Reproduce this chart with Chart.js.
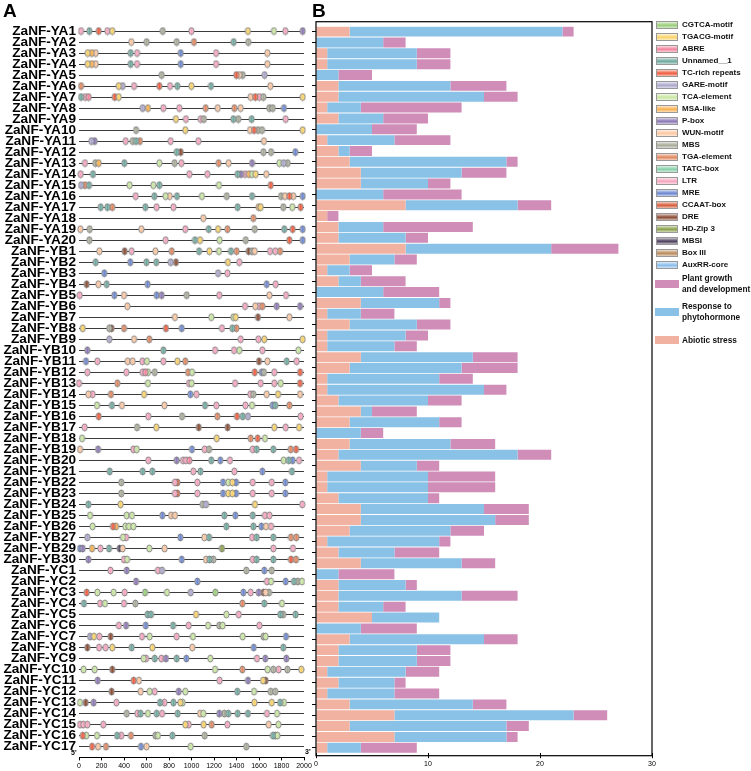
<!DOCTYPE html>
<html>
<head>
<meta charset="utf-8">
<script src="https://cdn.jsdelivr.net/npm/chart.js@4/dist/chart.umd.min.js"></script>
<style>
body { margin: 0; background: #fff; font-family: 'Liberation Sans', Arial, sans-serif; }
#wrap { position: relative; width: 751px; height: 771px; overflow: hidden; }
canvas { position: absolute; top: 0; }
#chartA { left: 0; }
#chartB { left: 300px; }
.panel { position: absolute; font-weight: bold; font-size: 19px; line-height: 19px; }
.end { position: absolute; font-weight: bold; font-size: 7px; line-height: 8px; }
.sw { position: absolute; left: 656px; width: 20px; height: 6px; border: 1px solid #999; }
.cs { position: absolute; left: 655px; width: 24px; height: 8px; }
.lt { position: absolute; left: 682px; font-size: 8px; font-weight: bold; line-height: 10px; white-space: nowrap; color: #111; }
</style>
</head>
<body>
<div id="wrap">
  <canvas id="chartA" width="315" height="771"></canvas>
  <canvas id="chartB" width="360" height="771"></canvas>
  <div class="panel" style="left:3px;top:1px">A</div>
  <div class="panel" style="left:312px;top:1px">B</div>
  <div class="end" style="left:71px;top:749px">5'</div>
  <div class="end" style="left:305px;top:748px">3'</div>
  <div id="legend"></div>
</div>
<script>
// genes shown in panel A (top to bottom)
const genes = [
  'ZaNF-YA1','ZaNF-YA2','ZaNF-YA3','ZaNF-YA4','ZaNF-YA5','ZaNF-YA6','ZaNF-YA7','ZaNF-YA8','ZaNF-YA9','ZaNF-YA10',
  'ZaNF-YA11','ZaNF-YA12','ZaNF-YA13','ZaNF-YA14','ZaNF-YA15','ZaNF-YA16','ZaNF-YA17','ZaNF-YA18','ZaNF-YA19','ZaNF-YA20',
  'ZaNF-YB1','ZaNF-YB2','ZaNF-YB3','ZaNF-YB4','ZaNF-YB5','ZaNF-YB6','ZaNF-YB7','ZaNF-YB8','ZaNF-YB9','ZaNF-YB10',
  'ZaNF-YB11','ZaNF-YB12','ZaNF-YB13','ZaNF-YB14','ZaNF-YB15','ZaNF-YB16','ZaNF-YB17','ZaNF-YB18','ZaNF-YB19','ZaNF-YB20',
  'ZaNF-YB21','ZaNF-YB22','ZaNF-YB23','ZaNF-YB24','ZaNF-YB25','ZaNF-YB26','ZaNF-YB27','ZaNF-YB29','ZaNF-YB30',
  'ZaNF-YC1','ZaNF-YC2','ZaNF-YC3','ZaNF-YC4','ZaNF-YC5','ZaNF-YC6','ZaNF-YC7','ZaNF-YC8','ZaNF-YC9','ZaNF-YC10',
  'ZaNF-YC11','ZaNF-YC12','ZaNF-YC13','ZaNF-YC14','ZaNF-YC15','ZaNF-YC16','ZaNF-YC17'
]

// panel B has one more row (YB28) than panel A
const barGenes = [...genes.slice(0, 47), 'ZaNF-YB28', ...genes.slice(47)]

const elements = ['CGTCA-motif','TGACG-motif','ABRE','Unnamed__1','TC-rich repeats','GARE-motif','TCA-element',
  'MSA-like','P-box','WUN-motif','MBS','TGA-element','TATC-box','LTR','MRE','CCAAT-box','DRE','HD-Zip 3',
  'MBSI','Box III','AuxRR-core']
const elementColors = ['#98cd78','#f8d268','#f2849c','#6ca89e','#ee5c3e','#aaa6cc','#c8e6a0','#f8b04e','#8a76b4',
  '#fcc6a0','#a8aa98','#e0865e','#86d0a8','#f6a4be','#6a86d0','#d65a38','#8a4a32','#8aa04a','#4a3e5c',
  '#b88a5a','#88bcec']

// element positions (bp from 5') per gene row, and the element type (index into elements)
const sitePos = [
  [18,92,175,252,296,744,999,1502,1733,1834,1988],
  [465,601,868,1022,1375,1505],
  [77,113,148,459,516,904,1218,1674],
  [77,113,148,459,516,904,1218,1674],
  [735,1398,1425,1455,1650],
  [18,353,388,489,714,809,874,999,1173,1701],
  [18,56,86,317,353,1526,1567,1603,1639,1988],
  [566,613,750,892,1126,1233,1381,1437,1692,1722,1822],
  [862,951,1082,1111,1372,1416,1535,1837],
  [507,945,1520,1556,1591,1627,1988],
  [110,139,415,477,507,542,815,1061,1644],
  [868,904,1639,1707,1923],
  [53,145,175,403,714,850,910,1241,1330,1538,1781,1819,1855],
  [15,124,981,1141,1410,1440,1476,1511,1538,1570,1665],
  [18,53,89,450,661,714,1244,1704],
  [504,670,770,806,871,1093,1313,1538,1796,1831,1870,1905,1988],
  [193,252,296,590,690,839,1410,1597,1615,1816,1896,1970],
  [1105,1550],
  [12,95,554,945,1153,1236,1319,1562,1825,1899,1988],
  [92,770,1031,1076,1250,1482,1870,1988],
  [181,406,468,679,824,1067,1159,1244,1351,1401,1508,1538,1562,1698,1745,1787],
  [148,456,599,687,815,862,1324,1425],
  [225,1236,1319],
  [68,172,246,610,1668,1748],
  [6,314,400,690,735,957,1247,1692,1840],
  [430,1476,1567,1600,1630,1757,1965],
  [853,1176,1372,1393,1591,1870],
  [33,270,290,400,773,913,1271,1363,1399],
  [270,489,625,1437,1594,1647,1988],
  [74,750,1209,1378,1425,1630,1950],
  [62,163,433,477,563,604,750,874,945,1600,1674,1846,1935],
  [74,421,566,590,613,673,969,1005,1562,1624,1644,1736,1965],
  [0,341,613,978,1001,1387,1615,1736,1793,1965],
  [83,121,284,578,990,1043,1523,1550,1668,1769,1965],
  [160,293,382,759,1120,1221,1479,1538,1721,1745,1870],
  [175,616,916,1230,1404,1455,1502,1970],
  [50,516,687,1064,1321,1736,1837,1956],
  [27,1224,1526,1588,1653],
  [9,169,483,513,1004,1117,1156,1544,1579,1727,1882,1929],
  [616,868,924,951,981,1176,1256,1342,1819,1864,1899,1956],
  [273,566,652,1016,1079,1381,1630,1893],
  [376,853,874,1052,1280,1327,1363,1396,1544,1713,1834],
  [376,853,874,1052,1280,1327,1363,1396,1544,1713,1834],
  [83,370,1099,1129,1564,1985],
  [98,424,471,741,818,853,1292,1390,1544,1653,1692],
  [121,302,329,412,444,483,1310,1550,1621,1662,1707],
  [74,391,418,901,1114,1156,1538,1579,1727,1884,1932],
  [9,33,116,190,267,361,388,625,761,1271,1727,1902],
  [83,400,427,913,1129,1161,1194,1544,1579,1727,1884,1929],
  [279,424,702,738,1487,1647,1713],
  [507,1052,1671,1707,1837,1911,1944,1982],
  [68,163,308,406,587,782,993,1212,1461,1526,1597,1639,1659,1689],
  [44,187,231,400,501,1452,1647,1804],
  [610,640,1040,1310,1420,1790,1815,1925],
  [355,418,593,836,975,1147,1247,1277,1603],
  [98,133,181,281,560,628,868,1013,1455,1639,1659,1840],
  [74,178,237,296,468,652,1007,1553,1816],
  [575,596,673,732,773,868,954,1167,1582,1656,1843],
  [41,139,296,1209,1452,1677,1727,1775,1852,1976],
  [166,486,533,1250,1502,1636,1659],
  [290,548,628,673,886,945,1407,1556,1704,1745],
  [9,59,130,332,720,759,839,901,921,1559,1713,1787,1822],
  [424,519,548,613,690,738,877,1076,1105,1247,1292,1327,1410,1502,1671,1760],
  [9,38,74,216,945,975,1108,1179,1319,1686,1772],
  [33,65,160,338,376,462,679,702,830,1117,1724,1745,1763],
  [116,169,240,551,601,993,1487]
]
const siteType = [
  [13,3,4,13,1,10,13,1,6,13,8],
  [9,10,10,11,3,10],
  [1,7,9,3,13,14,13,9],
  [1,7,9,3,13,14,13,9],
  [10,4,9,10,5],
  [11,1,5,13,4,13,3,1,3,9],
  [3,13,2,4,1,9,4,13,10,1],
  [5,7,13,13,11,9,11,9,10,10,14],
  [1,13,13,10,3,10,3,13],
  [10,1,9,4,10,10,1],
  [5,8,13,10,3,11,13,13,9],
  [3,16,10,10,14],
  [13,10,7,3,6,10,13,11,9,8,6,5,10],
  [13,3,13,13,3,8,13,7,6,1,9],
  [5,11,3,6,6,3,6,4],
  [13,3,6,9,3,6,10,3,10,9,4,9,14],
  [3,3,11,3,13,13,3,7,1,10,6,4],
  [9,11],
  [9,10,9,13,3,1,11,10,3,4,14],
  [10,13,3,1,6,10,4,14],
  [9,16,13,9,11,3,1,6,3,11,16,10,9,13,13,11],
  [3,14,3,3,5,16,1,13],
  [14,5,13],
  [16,9,3,14,14,13],
  [13,14,9,14,8,10,13,9,13],
  [9,13,9,13,11,8,8],
  [9,6,6,1,16,9],
  [1,10,16,11,4,14,13,3,11],
  [5,9,11,13,13,1,1],
  [8,3,13,13,6,13,6],
  [14,13,9,9,13,6,13,1,11,16,9,3,13],
  [13,13,13,2,6,10,11,6,4,14,10,13,4],
  [13,11,6,13,6,13,13,13,6,4],
  [9,13,11,1,14,13,13,10,9,1,9],
  [6,3,9,9,3,13,13,6,14,3,11],
  [4,13,10,11,4,3,5,13],
  [13,10,1,16,16,1,13,1],
  [6,1,11,4,6],
  [9,8,13,6,14,13,10,13,3,3,11,4],
  [13,8,13,13,2,3,14,13,6,3,14,13],
  [3,3,3,13,3,13,14,3],
  [10,13,15,13,14,6,1,14,13,13,14],
  [10,13,15,13,14,1,1,14,13,13,14],
  [3,1,10,5,1,13],
  [6,6,6,14,9,9,3,14,3,13,13],
  [6,4,7,6,6,6,3,3,14,9,13],
  [5,6,13,14,9,3,13,3,3,11,11],
  [14,8,7,13,3,18,9,6,9,17,13,13],
  [8,13,6,14,9,3,10,13,3,3,4,11],
  [13,8,13,5,10,14,10],
  [8,14,13,6,14,3,10,6],
  [4,6,6,13,0,6,5,0,14,13,8,16,9,10],
  [3,13,6,13,10,11,3,6],
  [3,3,1,6,13,3,10,3],
  [13,8,14,3,13,6,10,6,13],
  [5,1,13,16,13,6,13,6,6,10,6,14],
  [16,13,13,1,3,1,9,14,3],
  [6,13,3,13,8,3,14,6,13,8,8],
  [6,6,16,6,11,6,10,13,10,1],
  [8,4,9,13,8,1,16],
  [16,9,6,13,8,6,3,6,10,10],
  [6,16,8,13,3,13,3,1,6,1,1,3,6],
  [10,13,3,6,3,13,3,9,6,8,10,3,3,3,13,6],
  [13,13,13,13,1,13,1,11,13,9,6],
  [4,6,6,3,13,11,10,6,3,10,3,10,6],
  [4,9,11,14,9,6,10]
]

// panel B: number of elements per functional group (67 rows)
const abiotic = [3,0,1,1,0,2,2,1,2,0, 1,2,3,4,4,0,8,1,2,2, 8,3,1,2,0,4,1,3,1,1,
  4,3,1,1,2,4,3,0,3,2, 4,1,1,2,4,4,3,1,2,4, 0,2,2,2,5,0,3,2,2,1, 2,1,3,7,3,7,1]
const hormone = [19,6,8,8,2,10,13,3,4,5, 6,1,14,9,6,6,10,0,4,6, 13,4,2,2,6,7,3,6,7,6,
  10,10,10,14,8,1,8,4,9,16, 5,9,9,8,11,12,9,10,5,9, 2,6,11,4,6,4,12,7,7,7, 5,6,11,16,14,10,3]
const growth = [1,2,3,3,3,5,3,9,4,4, 5,2,1,4,2,7,3,1,8,2, 6,2,2,4,5,1,3,3,2,2,
  4,5,3,2,3,4,2,2,4,3, 2,6,6,1,4,3,3,1,4,3, 5,1,5,2,0,5,3,3,3,3, 1,4,3,3,2,1,5]

const groupNames = ['Abiotic stress', 'Response to phytohormone', 'Plant growth and development']
const groupColors = ['#f2b2a2', '#89c2e6', '#cf8db8']

const FONT = "'Liberation Sans', Arial, sans-serif"

function lighten(hex, f) {
    let n = parseInt(hex.slice(1), 16)
    let r = n >> 16, g = (n >> 8) & 255, b = n & 255
    r = Math.round(r + (255 - r) * f); g = Math.round(g + (255 - g) * f); b = Math.round(b + (255 - b) * f)
    return `rgb(${r},${g},${b})`
}

// small gradient ellipse used as point style
function MakeEllipse(color) {
    let c = document.createElement('canvas')
    c.width = 7
    c.height = 9
    let g = c.getContext('2d')
    let grd = g.createLinearGradient(1, 0, 6, 0)
    grd.addColorStop(0, lighten(color, 0.55))
    grd.addColorStop(0.5, color)
    grd.addColorStop(1, lighten(color, 0.45))
    g.beginPath()
    g.ellipse(3.5, 4.5, 2.6, 3.5, 0, 0, Math.PI * 2)
    g.fillStyle = grd
    g.fill()
    g.lineWidth = 0.9
    g.strokeStyle = '#7a7a7a'
    g.stroke()
    return c
}

function GetSiteDatasets() {
    let sets = elements.map((name, t) => ({
        label: name,
        data: [],
        pointStyle: MakeEllipse(elementColors[t]),
        pointRadius: 3,
        showLine: false,
    }))
    sitePos.forEach((row, r) => {
        row.forEach((x, k) => sets[siteType[r][k]].data.push({ x: x, y: r }))
    })
    return sets
}

function DisplaySiteChart() {
    new Chart(document.getElementById('chartA'), {
        type: 'scatter',
        data: { datasets: GetSiteDatasets() },
        options: {
            responsive: false,
            animation: false,
            clip: false,
            layout: { padding: { left: 0, right: 11, top: 25.5, bottom: 0 } },
            plugins: { legend: { display: false }, tooltip: { enabled: false } },
            scales: {
                x: {
                    type: 'linear',
                    min: 0,
                    max: 2000,
                    afterFit: (s) => { s.height = 13.6 },
                    ticks: { stepSize: 200, autoSkip: false, maxRotation: 0, padding: 1,
                        color: '#000', font: { family: FONT, size: 7 },
                        callback: (v) => String(v) },
                    grid: { drawOnChartArea: false, drawTicks: true, tickLength: 3, color: '#000' },
                    border: { display: true, color: '#000', width: 1 },
                },
                y: {
                    type: 'linear',
                    reverse: true,
                    min: -0.5,
                    max: 65.98,
                    afterFit: (s) => { s.width = 79 },
                    ticks: {
                        stepSize: 1,
                        autoSkip: false,
                        includeBounds: false,
                        padding: 3,
                        color: '#000',
                        font: { family: FONT, size: 13.6, weight: 'bold' },
                        callback: (v) => Number.isInteger(v) ? (genes[v] || '') : '',
                    },
                    grid: { color: '#3c3c3c', lineWidth: 1, drawTicks: false },
                    border: { display: false },
                },
            },
        },
    })
}

// frame around the bar plot
const boxPlugin = {
    id: 'box',
    afterDraw(chart) {
        let { ctx, chartArea: a } = chart
        ctx.save()
        ctx.strokeStyle = '#000'
        ctx.lineWidth = 1.2
        ctx.strokeRect(a.left, a.top - 4.5, a.right - a.left, a.bottom - a.top + 7)
        ctx.restore()
    }
}

function DisplayBarChart() {
    let values = [abiotic, hormone, growth]
    new Chart(document.getElementById('chartB'), {
        type: 'bar',
        data: {
            labels: barGenes,
            datasets: values.map((v, i) => ({
                label: groupNames[i],
                data: v,
                backgroundColor: groupColors[i],
                borderWidth: 0,
                barPercentage: 0.92,
                categoryPercentage: 1,
            })),
        },
        plugins: [boxPlugin],
        options: {
            indexAxis: 'y',
            responsive: false,
            animation: false,
            layout: { padding: { left: 0, right: 8, top: 26.2, bottom: 0 } },
            plugins: { legend: { display: false }, tooltip: { enabled: false } },
            scales: {
                x: {
                    stacked: true,
                    min: 0,
                    max: 30,
                    afterFit: (s) => { s.height = 17.8 },
                    ticks: { stepSize: 10, maxRotation: 0, padding: 2, color: '#000',
                        font: { family: FONT, size: 7 } },
                    grid: { drawOnChartArea: false, drawTicks: true, tickLength: 5, color: '#000' },
                    border: { display: false },
                },
                y: {
                    stacked: true,
                    afterFit: (s) => { s.width = 16 },
                    ticks: { display: false, autoSkip: false },
                    grid: { drawOnChartArea: false, drawTicks: true, tickLength: 4, offset: false, color: '#000' },
                    border: { display: false },
                },
            },
        },
    })
}

function DisplayLegend() {
    let box = document.getElementById('legend')
    let html = ''
    elements.forEach((name, i) => {
        let cy = 25 + 12 * i
        let c = elementColors[i]
        html += `<div class="sw" style="top:${cy - 4}px;background:linear-gradient(to bottom, ${lighten(c, 0.7)} 0%, ${lighten(c, 0.25)} 35%, ${c} 55%, ${lighten(c, 0.6)} 100%)"></div>`
        html += `<div class="lt" style="top:${cy - 5}px">${name}</div>`
    })
    let groups = [
        { i: 2, cy: 284, lines: ['Plant growth', 'and development'] },
        { i: 1, cy: 312, lines: ['Response to', 'phytohormone'] },
        { i: 0, cy: 340, lines: ['Abiotic stress'] },
    ]
    for (let g of groups) {
        html += `<div class="cs" style="top:${g.cy - 4}px;background:${groupColors[g.i]}"></div>`
        let top = g.cy - 5 * g.lines.length - (g.lines.length > 1 ? 1 : 0)
        html += `<div class="lt" style="top:${top}px;line-height:11px;font-size:8.3px">${g.lines.join('<br>')}</div>`
    }
    box.innerHTML = html
}

DisplaySiteChart()
DisplayBarChart()
DisplayLegend()
</script>
</body>
</html>
